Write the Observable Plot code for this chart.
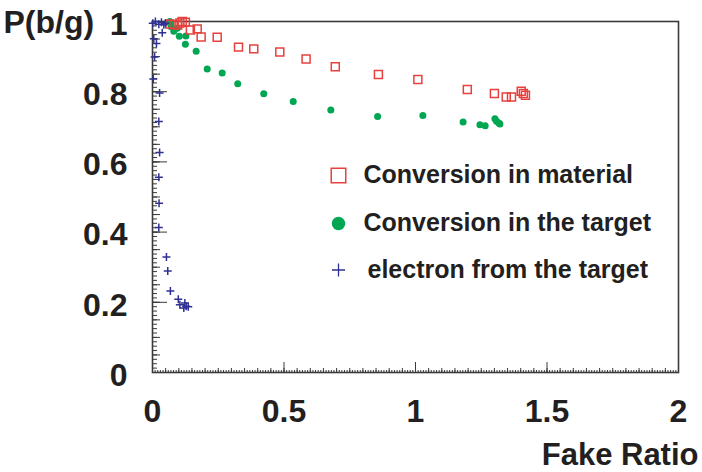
<!DOCTYPE html>
<html>
<head>
<meta charset="utf-8">
<script src="https://cdn.jsdelivr.net/npm/d3@7"></script>
<script src="https://cdn.jsdelivr.net/npm/@observablehq/plot@0.6"></script>
<style>
  body { margin: 0; background: #fff; }
  #chart svg { font-family: "Liberation Sans", Arial, Helvetica, sans-serif; }
</style>
</head>
<body>
<div id="chart"></div>
<script>
// ---- Data ----
const materialX = [0.066, 0.081, 0.096, 0.104, 0.113, 0.125, 0.144, 0.170, 0.185, 0.246, 0.327, 0.385, 0.484, 0.584, 0.695, 0.859, 1.009, 1.197, 1.300, 1.345, 1.365, 1.402, 1.410, 1.418];
const materialY = [0.993, 0.991, 0.990, 0.996, 1.000, 0.998, 0.976, 0.979, 0.956, 0.955, 0.927, 0.922, 0.913, 0.893, 0.871, 0.849, 0.835, 0.806, 0.795, 0.785, 0.785, 0.801, 0.795, 0.790];

const targetX = [0.066, 0.071, 0.081, 0.094, 0.102, 0.127, 0.125, 0.166, 0.208, 0.265, 0.324, 0.423, 0.535, 0.678, 0.856, 1.028, 1.181, 1.245, 1.265, 1.302, 1.308, 1.317, 1.321];
const targetY = [1.000, 0.985, 0.972, 0.981, 0.958, 0.959, 0.935, 0.915, 0.865, 0.853, 0.823, 0.794, 0.772, 0.748, 0.729, 0.732, 0.714, 0.706, 0.703, 0.723, 0.716, 0.711, 0.708];

const electronX = [0.001, 0.011, 0.024, 0.034, 0.043, 0.049, 0.037, 0.005, 0.015, 0.008, 0.003, 0.027, 0.024, 0.027, 0.024, 0.025, 0.024, 0.053, 0.058, 0.068, 0.098, 0.104, 0.123, 0.128, 0.119, 0.136];
const electronY = [0.995, 1.000, 0.992, 0.998, 0.991, 0.995, 0.968, 0.951, 0.937, 0.899, 0.836, 0.796, 0.715, 0.627, 0.556, 0.482, 0.413, 0.329, 0.289, 0.232, 0.209, 0.193, 0.198, 0.189, 0.184, 0.187];

const seriesNames = ["Conversion in material", "Conversion in the target", "electron from the target"];
const xTickValues = [0, 0.5, 1, 1.5, 2];
const yTickValues = [0, 0.2, 0.4, 0.6, 0.8, 1];
const xTitle = "Fake Ratio";
const yTitle = "P(b/g)";

// ---- Build tables ----
const material = materialX.map((x, i) => ({x, y: materialY[i]}));
const target = targetX.map((x, i) => ({x, y: targetY[i]}));
const electron = electronX.map((x, i) => ({x, y: electronY[i]}));

const xSmall = d3.range(0, 2.0001, 0.01);
const xMedium = d3.range(0, 2.0001, 0.05);
const ySmall = d3.range(0, 1.0001, 0.0125);
const yMedium = d3.range(0, 1.0001, 0.05);

const RED = "#e8403e", GREEN = "#00a651", BLUE = "#2e3192", INK = "#231f20", AX = "#3a3a3a";

const tickOnly = {fill: "none", label: null, stroke: AX};
const textStyle = {x: null, y: null, text: d => d, lineAnchor: "middle", fontWeight: "bold", fill: INK};

const plot = Plot.plot({
  width: 702,
  height: 472,
  marginLeft: 152,
  marginRight: 24,
  marginTop: 21,
  marginBottom: 100,
  x: {domain: [0, 2]},
  y: {domain: [0, 1]},
  style: {background: "white", fontFamily: "'Liberation Sans', Arial, sans-serif"},
  marks: [
    // inward ticks on the bottom axis
    Plot.axisX({anchor: "top", frameAnchor: "bottom", ticks: xSmall, tickSize: 3, ...tickOnly}),
    Plot.axisX({anchor: "top", frameAnchor: "bottom", ticks: xMedium, tickSize: 5, ...tickOnly}),
    Plot.axisX({anchor: "top", frameAnchor: "bottom", ticks: xTickValues, tickSize: 11, ...tickOnly}),
    Plot.axisX({anchor: "bottom", ticks: xTickValues, tickSize: 0, tickPadding: 27, tickFormat: d => String(d),
      fontSize: 32, fontWeight: "bold", fill: INK, label: null}),
    // inward ticks on the left axis
    Plot.axisY({anchor: "right", frameAnchor: "left", ticks: ySmall, tickSize: 4, ...tickOnly}),
    Plot.axisY({anchor: "right", frameAnchor: "left", ticks: yMedium, tickSize: 7, ...tickOnly}),
    Plot.axisY({anchor: "right", frameAnchor: "left", ticks: yTickValues, tickSize: 14, ...tickOnly}),
    Plot.axisY({anchor: "left", ticks: yTickValues, tickSize: 0, tickPadding: 25, dy: 3, tickFormat: d => String(d),
      fontSize: 32, fontWeight: "bold", fill: INK, label: null}),
    Plot.frame({stroke: AX, strokeWidth: 1.6}),
    // data
    Plot.dot(target, {x: "x", y: "y", r: 3.5, fill: GREEN, stroke: "none"}),
    Plot.dot(material, {x: "x", y: "y", symbol: "square", r: 4.5, stroke: RED, strokeWidth: 1.5, fill: "none"}),
    Plot.dot(electron, {x: "x", y: "y", symbol: "plus", r: 2.7, stroke: BLUE, strokeWidth: 1.5}),
    // legend
    Plot.dot([seriesNames[0]], {x: null, y: null, frameAnchor: "top-left", dx: 186, dy: 154, symbol: "square", r: 8.2, stroke: RED, strokeWidth: 1.5, fill: "none"}),
    Plot.dot([seriesNames[1]], {x: null, y: null, frameAnchor: "top-left", dx: 186, dy: 202, r: 6.7, fill: GREEN, stroke: "none"}),
    Plot.dot([seriesNames[2]], {x: null, y: null, frameAnchor: "top-left", dx: 186, dy: 248.5, symbol: "plus", r: 4.3, stroke: BLUE, strokeWidth: 1.3}),
    Plot.text([seriesNames[0]], {...textStyle, frameAnchor: "top-left", dx: 211, dy: 153, textAnchor: "start", fontSize: 25}),
    Plot.text([seriesNames[1]], {...textStyle, frameAnchor: "top-left", dx: 211, dy: 201, textAnchor: "start", fontSize: 25}),
    Plot.text([seriesNames[2]], {...textStyle, frameAnchor: "top-left", dx: 215, dy: 248, textAnchor: "start", fontSize: 25}),
    // axis titles
    Plot.text([xTitle], {...textStyle, frameAnchor: "bottom-right", dx: 20, dy: 83, textAnchor: "end", fontSize: 31}),
    Plot.text([yTitle], {...textStyle, frameAnchor: "top-left", dx: -149, dy: 1, textAnchor: "start", fontSize: 32})
  ]
});
document.getElementById("chart").appendChild(plot);
</script>
</body>
</html>
